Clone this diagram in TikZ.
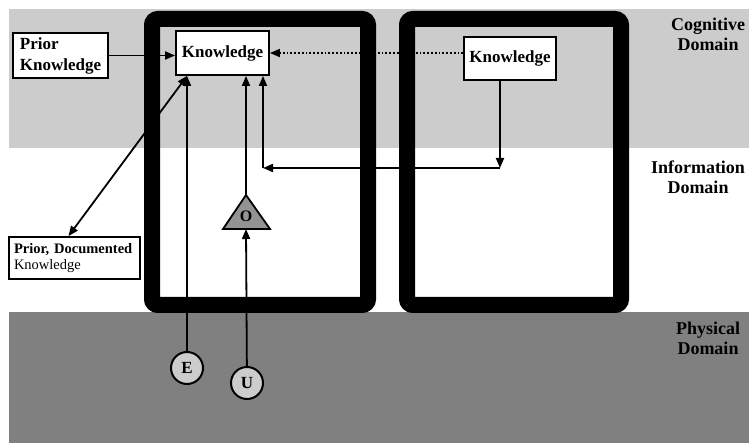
\documentclass[tikz,border=0pt]{standalone}
\usepackage{fontspec}
\setmainfont{Liberation Serif}
\usetikzlibrary{arrows.meta}

\begin{document}
\begin{tikzpicture}[x=1pt, y=-1pt,
    box/.style = {draw, line width=1.8pt, fill=white, inner sep=4pt, font=\fontsize{17}{21}\selectfont\bfseries},
    domlabel/.style = {align=center, font=\fontsize{18}{20}\selectfont\bfseries},
    frame/.style = {line width=16pt, rounded corners=6pt},
    arr/.style = {line width=1.8pt, -{Triangle[length=10pt,width=8pt]}},
    event/.style = {draw, circle, line width=2pt, fill=gray!40, minimum size=32pt, inner sep=0pt, font=\fontsize{17}{17}\selectfont\bfseries}]
    \useasboundingbox (0,0) rectangle (749,443);
    % domain bands
    \fill[gray!40] (9,9) rectangle (749,148);
    \fill[gray] (9,312) rectangle (749,443);
    \draw[frame] (152,19) rectangle (368,305);
    \draw[frame] (407,19) rectangle (621,305);
    % nodes
    \node[box, minimum width=95pt, minimum height=45pt, align=left] (prior) at (60.5,55.5) {Prior\\Knowledge};
    \node[box, minimum width=93pt, minimum height=44pt] (kl) at (222.5,53) {Knowledge};
    \node[box, minimum width=92pt, minimum height=43pt] (kr) at (510,58.5) {Knowledge};
    \node[box, minimum width=131pt, minimum height=42pt, text width=121pt, align=left, font=\fontsize{14.5}{16}\selectfont] (pdk) at (74.5,258) {\textbf{Prior, Documented}\\Knowledge};
    \draw[line width=1.8pt, fill=gray!85] (223,229) -- (246,195) -- (270,229) -- cycle;
    \node[font=\fontsize{16}{16}\selectfont\bfseries] (obs) at (246,216) {O};
    \coordinate (obs top) at (246,195);
    \coordinate (obs base) at (246,229);
    \node[event] (e) at (187,368) {E};
    \node[event] (u) at (247,383) {U};
    \coordinate (turn r) at (500,168);
    \coordinate (turn l) at (263,168);
    \node[domlabel] (cog) at (708,34) {Cognitive\\Domain};
    \node[domlabel] (info) at (698,177) {Information\\Domain};
    \node[domlabel] (phys) at (708,338) {Physical\\Domain};
    % connectors
    \draw[arr] (prior.east) -- (prior.east -| kl.west);
    \draw[arr, dotted] (kr.west |- kl.east) -- (kl.east);
    \draw[arr] (e) -- (e |- kl.south);
    \draw[arr] (obs top) -- (obs top |- kl.south);
    \draw[arr] (u) -- (obs base);
    \draw[arr] (kr.south -| turn r) -- (turn r);
    \draw[arr] (turn r) -- (turn l);
    \draw[arr] (turn l) -- (turn l |- kl.south);
    \draw[arr, {Triangle[length=10pt,width=8pt]}-{Triangle[length=10pt,width=8pt]}] ([xshift=12pt]kl.south west) -- ([xshift=-6pt]pdk.north);
\end{tikzpicture}
\end{document}
